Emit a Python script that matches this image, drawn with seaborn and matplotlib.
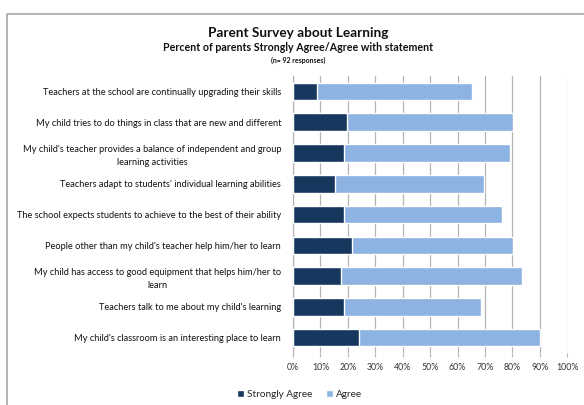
import matplotlib
matplotlib.use("Agg")
import matplotlib.pyplot as plt
from matplotlib.lines import Line2D
from matplotlib.patches import Patch
from matplotlib.ticker import MultipleLocator, PercentFormatter
import seaborn as sns
import pandas as pd

statements = [
    "Teachers at the school are continually upgrading their skills",
    "My child tries to do things in class that are new and different",
    "My child's teacher provides a balance of independent and group\nlearning activities",
    "Teachers adapt to students' individual learning abilities",
    "The school expects students to achieve to the best of their ability",
    "People other than my child's teacher help him/her to learn",
    "My child has access to good equipment that helps him/her to\nlearn",
    "Teachers talk to me about my child's learning",
    "My child's classroom is an interesting place to learn",
]
strongly_agree = [8.7, 19.6, 18.5, 15.2, 18.5, 21.7, 17.4, 18.5, 23.9]
agree = [56.5, 60.8, 60.8, 54.4, 57.6, 58.7, 66.3, 50.0, 66.3]

DARK = "#17375E"
LIGHT = "#8DB3E2"
GRID = "#B4B4B4"

sns.set_theme(style="white")
plt.rcParams["font.family"] = ["Lato", "DejaVu Sans"]

df = pd.DataFrame({
    "statement": statements,
    "Strongly Agree": strongly_agree,
    "Agree": agree,
})
df["total"] = df["Strongly Agree"] + df["Agree"]

fig = plt.figure(figsize=(5.84, 4.05), dpi=100)
ax = fig.add_axes([0.5017, 0.1284, 0.4695, 0.6839])

# Stacked horizontal bars: full bar (agree on top of strongly agree), then the strongly-agree part over it
sns.barplot(data=df, y="statement", x="total", color=LIGHT, width=0.57,
            saturation=1, ax=ax, orient="h", zorder=3)
sns.barplot(data=df, y="statement", x="Strongly Agree", color=DARK, width=0.57,
            saturation=1, ax=ax, orient="h", zorder=4)

ax.set_xlim(0, 100)
ax.set_ylim(8.5, -0.5)
ax.xaxis.set_major_locator(MultipleLocator(10))
ax.xaxis.set_major_formatter(PercentFormatter(decimals=0))
ax.set_xlabel("")
ax.set_ylabel("")
ax.grid(axis="x", color=GRID, linewidth=0.9, zorder=0)
ax.set_axisbelow(True)
for side in ("top", "right", "bottom"):
    ax.spines[side].set_visible(False)
ax.spines["left"].set_color(GRID)
ax.spines["left"].set_linewidth(0.9)
ax.tick_params(axis="x", labelsize=6.3, colors="#333333", length=3, width=0.8,
               color=GRID, pad=4, bottom=True)
ax.tick_params(axis="y", labelsize=6.65, length=0, pad=8.5, labelcolor="#111111")
for lbl in ax.get_yticklabels():
    lbl.set_multialignment("center")
    lbl.set_linespacing(1.55)

fig.text(0.51, 0.918, "Parent Survey about Learning", ha="center", va="center",
         fontsize=9.8, fontweight="bold", color="#111111")
fig.text(0.51, 0.882, "Percent of parents Strongly Agree/Agree with statement",
         ha="center", va="center", fontsize=7.7, fontweight="bold", color="#111111")
fig.text(0.51, 0.85, "(n= 92 responses)", ha="center", va="center",
         fontsize=5.0, fontweight="bold", color="#111111")

handles = [Patch(facecolor=DARK, label="Strongly Agree"),
           Patch(facecolor=LIGHT, label="Agree")]
fig.legend(handles=handles, loc="center", bbox_to_anchor=(0.513, 0.025), ncol=2,
           frameon=False, fontsize=7.2, handlelength=0.7, handleheight=0.7,
           handletextpad=0.3, columnspacing=1.4)

# chart area outline on the left and top
fig.add_artist(Line2D([7 / 584, 7 / 584, 1.0], [0.0, 1 - 14 / 405, 1 - 14 / 405],
                      transform=fig.transFigure, color="#A6A6A6", linewidth=1.2))

fig.savefig("out.png", dpi=100)
